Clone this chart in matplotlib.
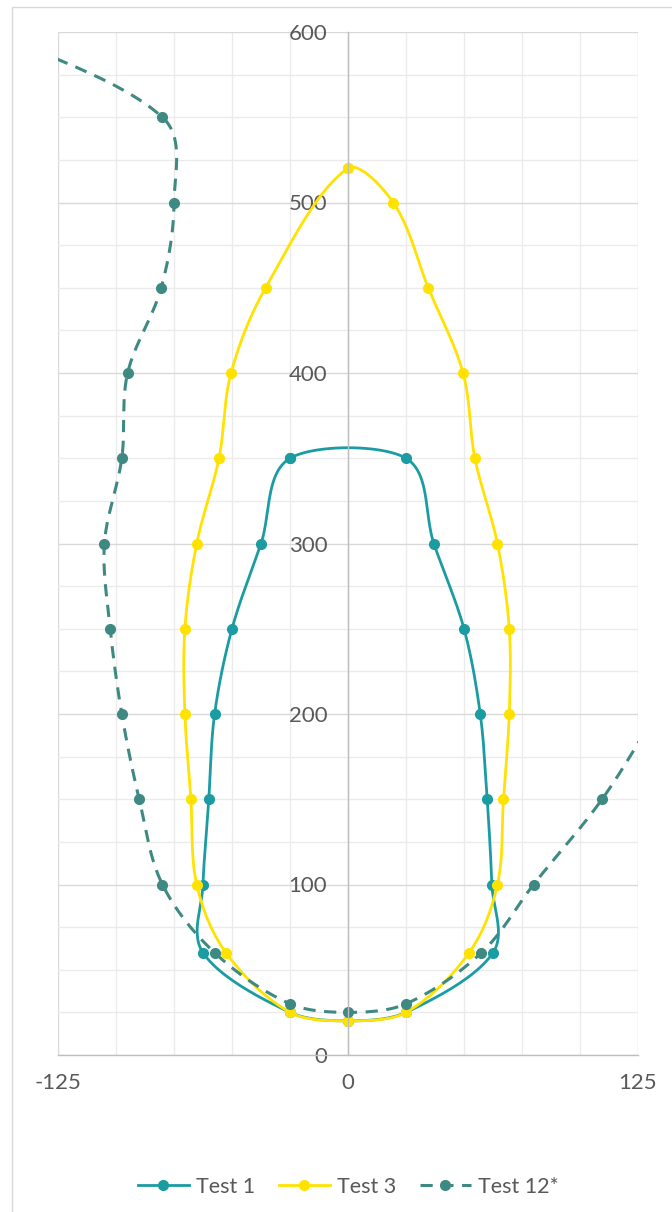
import numpy as np
import matplotlib
matplotlib.use('Agg')
import matplotlib.pyplot as plt
from matplotlib.patches import Rectangle
from matplotlib.ticker import MultipleLocator

plt.rcParams['font.family'] = ['Lato', 'DejaVu Sans']
plt.rcParams['axes.unicode_minus'] = False

# Test 1 profile (closed loop, starts at top-left shoulder)
t1_x = [-25, -37.5, -50, -57.5, -60, -62.5, -62.5, -25, 0, 25, 62.5, 62, 60, 57, 50, 37, 25]
t1_y = [350, 300, 250, 200, 150, 100, 60, 25, 20, 25, 60, 100, 150, 200, 250, 300, 350]

# Test 3 profile (closed loop, starts at the crown)
t3_x = [0, 19.5, 34.6, 49.6, 54.7, 64.4, 69.5, 69.5, 67, 64.4, 52.2, 25, 0,
        -25, -52.6, -65.2, -67.7, -70.3, -70.3, -65.2, -55.6, -50.4, -35.5]
t3_y = [520, 500, 450, 400, 350, 300, 250, 200, 150, 100, 60, 25, 20,
        25, 60, 100, 150, 200, 250, 300, 350, 400, 450]

# Test 12* profile (open, runs past both sides of the frame)
t12_x = [-160, -80, -75, -80.5, -95, -97.5, -105, -102.5, -97.5, -90, -80, -57.5,
         -25, 0, 25, 57.5, 80, 109.5, 135]
t12_y = [605, 550, 500, 450, 400, 350, 300, 250, 200, 150, 100, 60,
         30, 25, 30, 60, 100, 150, 205]

N = 24


def smooth(xs, ys, closed=False, n=N):
    # cubic Hermite through the points, tangents scaled by segment length
    p = np.column_stack([xs, ys]).astype(float)
    if closed:
        p = np.vstack([p, p[:1]])
        ext = np.vstack([p[-2], p, p[1]])
    else:
        ext = np.vstack([2 * p[0] - p[1], p, 2 * p[-1] - p[-2]])
    t = np.linspace(0, 1, n, endpoint=False)[:, None]
    h00 = 2 * t**3 - 3 * t**2 + 1
    h10 = t**3 - 2 * t**2 + t
    h01 = -2 * t**3 + 3 * t**2
    h11 = t**3 - t**2
    out = []
    for i in range(len(p) - 1):
        p0, p1, p2, p3 = ext[i], ext[i + 1], ext[i + 2], ext[i + 3]
        d01 = np.hypot(*(p1 - p0))
        d12 = np.hypot(*(p2 - p1))
        d23 = np.hypot(*(p3 - p2))
        m1 = (p2 - p0) * d12 / (d01 + d12)
        m2 = (p3 - p1) * d12 / (d12 + d23)
        out.append(h00 * p1 + h10 * m1 + h01 * p2 + h11 * m2)
    out.append(p[-1][None, :])
    out = np.vstack(out)
    return out[:, 0], out[:, 1]


fig = plt.figure(figsize=(6.72, 12.12), dpi=100)
ax = fig.add_axes([58 / 672, 1 - 1055 / 1212, 580 / 672, 1023 / 1212])

fig.patches.append(Rectangle((12 / 672, -0.1), 1.2, 0.1 + 1 - 7 / 1212,
                             transform=fig.transFigure, fill=False,
                             edgecolor='#D9D9D9', lw=1.0))

c1 = '#1A9CA2'
c3 = '#FFE200'
c12 = '#3E8A82'

x, y = smooth(t1_x, t1_y, closed=True)
ax.plot(x, y, color=c1, lw=2.0, marker='o', ms=7, markevery=N, label='Test 1')
x, y = smooth(t3_x, t3_y, closed=True)
ax.plot(x, y, color=c3, lw=2.0, marker='o', ms=7, markevery=N, label='Test 3')
x, y = smooth(t12_x, t12_y)
ax.plot(x, y, color=c12, lw=2.2, dashes=(4, 2.8), marker='o', ms=7,
        markevery=N, label='Test 12*')

ax.set_xlim(-125, 125)
ax.set_ylim(0, 600)
ax.set_xticks([-125, 0, 125])
ax.xaxis.set_minor_locator(MultipleLocator(25))
ax.yaxis.set_major_locator(MultipleLocator(100))
ax.yaxis.set_minor_locator(MultipleLocator(25))

ax.set_axisbelow(True)
ax.grid(which='major', color='#D9D9D9', lw=1.0)
ax.grid(which='minor', color='#EBEBEB', lw=1.0)

ax.spines['left'].set_position(('data', 0))
for s in ['left', 'bottom']:
    ax.spines[s].set_color('#BFBFBF')
    ax.spines[s].set_linewidth(1.0)
for s in ['top', 'right']:
    ax.spines[s].set_visible(False)

ax.tick_params(which='both', length=0, labelsize=16, labelcolor='#595959')
ax.tick_params(axis='y', pad=15)
ax.tick_params(axis='x', pad=13)

fig.legend(loc='center', bbox_to_anchor=(348 / 672, 1 - 1187 / 1212), ncol=3,
           frameon=False, fontsize=15.5, labelcolor='#595959',
           handlelength=2.4, handletextpad=0.3, columnspacing=1.1)

fig.savefig('out.png', dpi=100)
